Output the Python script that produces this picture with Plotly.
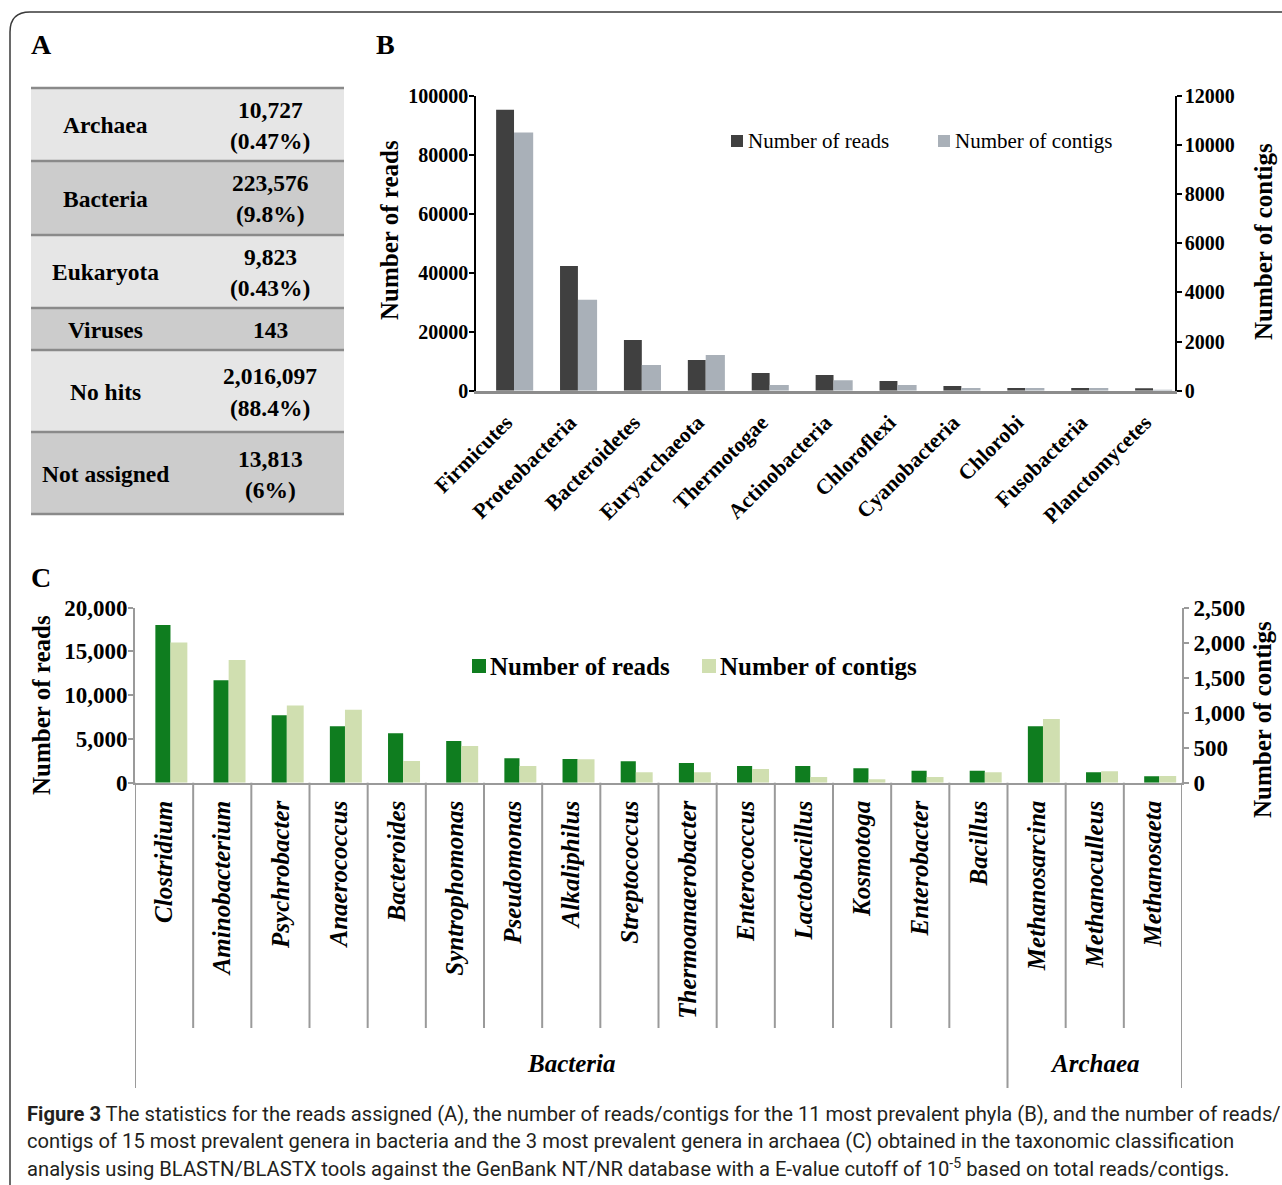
import plotly.graph_objects as go

W, H = 1282, 1185
SERIF = "Liberation Serif, Times New Roman, serif"
SANS = "Liberation Sans Narrow, Arial Narrow, Roboto, sans-serif"

# ---- Panel A: reads assigned per domain ----
domains = ["Archaea", "Bacteria", "Eukaryota", "Viruses", "No hits", "Not assigned"]
domain_reads = [10727, 223576, 9823, 143, 2016097, 13813]
domain_pct = [0.47, 9.8, 0.43, None, 88.4, 6]

# ---- Panel B: 11 most prevalent phyla ----
phyla = ["Firmicutes", "Proteobacteria", "Bacteroidetes", "Euryarchaeota", "Thermotogae",
         "Actinobacteria", "Chloroflexi", "Cyanobacteria", "Chlorobi", "Fusobacteria",
         "Planctomycetes"]
phyla_reads = [95200, 42300, 17200, 10400, 6000, 5300, 3300, 1600, 900, 900, 800]
phyla_contigs = [10500, 3700, 1050, 1450, 230, 430, 230, 110, 110, 110, 40]

# ---- Panel C: 15 bacterial and 3 archaeal genera ----
genera = ["Clostridium", "Aminobacterium", "Psychrobacter", "Anaerococcus", "Bacteroides",
          "Syntrophomonas", "Pseudomonas", "Alkaliphilus", "Streptococcus",
          "Thermoanaerobacter", "Enterococcus", "Lactobacillus", "Kosmotoga", "Enterobacter",
          "Bacillus", "Methanosarcina", "Methanoculleus", "Methanosaeta"]
genus_domain = ["Bacteria"] * 15 + ["Archaea"] * 3
genera_reads = [18000, 11700, 7700, 6450, 5650, 4750, 2800, 2700, 2450, 2250, 1900, 1900,
                1650, 1350, 1350, 6450, 1200, 750]
genera_contigs = [2000, 1750, 1100, 1040, 310, 525, 240, 335, 150, 150, 195, 80, 50, 80,
                  150, 910, 165, 95]


def px(x):
    return x / W


def py(y):
    return 1 - y / H


shapes = []
annotations = []


def text(x, y, s, size, bold=False, italic=False, family=SERIF, xanchor="center",
         angle=0, color="black"):
    annotations.append(dict(
        x=px(x), y=py(y), xref="paper", yref="paper", text=s, showarrow=False,
        xanchor=xanchor, yanchor="middle", textangle=angle,
        font=dict(family=family, size=size, color=color,
                  weight="bold" if bold else "normal",
                  style="italic" if italic else "normal")))


# outer frame with rounded corner
r = 20
shapes.append(dict(
    type="path", xref="paper", yref="paper",
    path=(f"M {px(10)},{py(H)} L {px(10)},{py(12 + r)} "
          f"Q {px(10)},{py(12)} {px(10 + r)},{py(12)} L {px(W)},{py(12)}"),
    line=dict(color="#3a3a3a", width=1.5)))

# panel letters
text(41, 45, "A", 28, bold=True)
text(386, 45, "B", 28, bold=True)
text(41, 577, "C", 28, bold=True)

# ---- Panel A table ----
row_heights = [73, 74, 73, 42, 82, 82]
row_fill = ["#e6e6e6", "#cccccc"]
top = 88
y0 = top
for i, (name, n, p) in enumerate(zip(domains, domain_reads, domain_pct)):
    y1 = y0 + row_heights[i]
    shapes.append(dict(type="rect", xref="paper", yref="paper", layer="below",
                       x0=px(31), x1=px(344), y0=py(y0), y1=py(y1),
                       fillcolor=row_fill[i % 2], line=dict(width=0)))
    mid = (y0 + y1) / 2 + 1
    text(105, mid, name, 23.5, bold=True)
    if p is None:
        text(270, mid, f"{n:,}", 23.5, bold=True)
    else:
        text(270, mid - 15.5, f"{n:,}", 23.5, bold=True)
        text(270, mid + 15.5, f"({p:g}%)", 23.5, bold=True)
    y0 = y1
# horizontal rules of the table
y = top
for h in [0] + row_heights:
    y += h
    shapes.append(dict(type="line", xref="paper", yref="paper",
                       x0=px(31), x1=px(344), y0=py(y), y1=py(y),
                       line=dict(color="#8a8a8a", width=2.5)))

# ---- traces ----
fig = go.Figure()
fig.add_trace(go.Bar(x=phyla, y=phyla_reads, name="Number of reads", xaxis="x", yaxis="y",
                     marker=dict(color="#404040", line=dict(width=0)), offset=-0.28, width=0.28))
fig.add_trace(go.Bar(x=phyla, y=phyla_contigs, name="Number of contigs", xaxis="x", yaxis="y2",
                     marker=dict(color="#a9b0b8", line=dict(width=0)), offset=0.0, width=0.30))
fig.add_trace(go.Bar(x=genera, y=genera_reads, name="Number of reads", xaxis="x2", yaxis="y3",
                     marker=dict(color="#0f7d1f", line=dict(width=0)), offset=-0.15, width=0.26))
fig.add_trace(go.Bar(x=genera, y=genera_contigs, name="Number of contigs", xaxis="x2", yaxis="y4",
                     marker=dict(color="#d0dfb0", line=dict(width=0)), offset=0.11, width=0.29))

# ---- Panel B decorations ----
text(390, 230, "Number of reads", 25, bold=True, angle=-90)
text(1263, 242, "Number of contigs", 25, bold=True, angle=-90)
for sx, label, col in [(731, "Number of reads", "#404040"), (938, "Number of contigs", "#a9b0b8")]:
    shapes.append(dict(type="rect", xref="paper", yref="paper", x0=px(sx), x1=px(sx + 12),
                       y0=py(147), y1=py(135), fillcolor=col, line=dict(width=0)))
    text(sx + 15, 141, label, 21, xanchor="left")

# ---- Panel C decorations ----
text(42, 705, "Number of reads", 25, bold=True, angle=-90)
text(1262, 720, "Number of contigs", 25, bold=True, angle=-90)
for sx, label, col in [(472, "Number of reads", "#0f7d1f"), (702, "Number of contigs", "#d0dfb0")]:
    shapes.append(dict(type="rect", xref="paper", yref="paper", x0=px(sx), x1=px(sx + 14),
                       y0=py(673), y1=py(659), fillcolor=col, line=dict(width=0)))
    text(sx + 16, 666, label, 25, bold=True, xanchor="left")

# category separators and domain brackets under panel C
group_edges = [0]
for i in range(1, len(genera)):
    if genus_domain[i] != genus_domain[i - 1]:
        group_edges.append(i)
group_edges.append(len(genera))
for i in range(len(genera) + 1):
    long_tick = i in group_edges
    shapes.append(dict(type="line", xref="x2", yref="paper", x0=i - 0.5, x1=i - 0.5,
                       y0=py(782.7), y1=py(1088 if long_tick else 1028),
                       line=dict(color="#9a9a9a", width=2)))
for a, b in zip(group_edges[:-1], group_edges[1:]):
    annotations.append(dict(x=(a + b - 1) / 2, y=py(1063), xref="x2", yref="paper",
                            text=genus_domain[a], showarrow=False, xanchor="center",
                            yanchor="middle",
                            font=dict(family=SERIF, size=25, color="black", weight="bold",
                                      style="italic")))

# ---- caption ----
caption = [
    "<b>Figure 3</b> The statistics for the reads assigned (A), the number of reads/contigs for "
    "the 11 most prevalent phyla (B), and the number of reads/",
    "contigs of 15 most prevalent genera in bacteria and the 3 most prevalent genera in archaea "
    "(C) obtained in the taxonomic classification",
    "analysis using BLASTN/BLASTX tools against the GenBank NT/NR database with a E-value cutoff "
    "of 10<sup>-5</sup> based on total reads/contigs.",
]
for k, line in enumerate(caption):
    text(25, 1114 + 27 * k, line, 20.2, family=SANS, xanchor="left", color="#231f20")

tick_b = dict(family=SERIF, size=20, color="black", weight="bold")
tick_bx = dict(family=SERIF, size=21.5, color="black", weight="bold")
tick_c = dict(family=SERIF, size=23, color="black", weight="bold")

fig.update_layout(
    template="none",
    width=W, height=H, margin=dict(l=0, r=0, t=0, b=0, pad=0, autoexpand=False),
    paper_bgcolor="white", plot_bgcolor="rgba(0,0,0,0)",
    showlegend=False, barmode="overlay",
    shapes=shapes, annotations=annotations,
    xaxis=dict(domain=[px(476), px(1175)], anchor="y", type="category", automargin=False,
               range=[-0.595, 10.344], showline=True, linecolor="#8c8c8c", linewidth=2.5,
               ticks="", tickangle=-45, tickfont=tick_bx, ticklabelstandoff=8,
               ticklabelshift=-8, showgrid=False, zeroline=False),
    yaxis=dict(domain=[py(390.7), py(95.7)], anchor="x", range=[0, 100000], automargin=False,
               tickvals=list(range(0, 100001, 20000)), tickformat="d",
               showline=True, linecolor="black", linewidth=1.5, ticks="outside",
               ticklen=5, tickcolor="black", tickwidth=1.5, tickfont=tick_b,
               ticklabelstandoff=-3, showgrid=False, zeroline=False),
    yaxis2=dict(overlaying="y", side="right", anchor="x", range=[0, 12000], automargin=False,
                tickvals=list(range(0, 12001, 2000)), tickformat="d",
                showline=True, linecolor="black", linewidth=1.5, ticks="outside",
                ticklen=5, tickcolor="black", tickwidth=1.5, tickfont=tick_b,
                ticklabelstandoff=-1, showgrid=False, zeroline=False),
    xaxis2=dict(domain=[px(135), px(1182)], anchor="y3", type="category", automargin=False,
                range=[-0.5, 17.5], showline=True, linecolor="#9a9a9a", linewidth=2,
                ticks="", tickangle=-90, ticklabelstandoff=6,
                tickfont=dict(family=SERIF, size=25, color="black", weight="bold",
                              style="italic"),
                showgrid=False, zeroline=False),
    yaxis3=dict(domain=[py(782.7), py(607.5)], anchor="x2", range=[0, 20000], automargin=False,
                tickvals=list(range(0, 20001, 5000)), tickformat=",",
                showline=True, linecolor="#9a9a9a", linewidth=2, ticks="outside",
                ticklen=5, tickcolor="#9a9a9a", tickwidth=1.5, tickfont=tick_c,
                ticklabelstandoff=-4, showgrid=False, zeroline=False),
    yaxis4=dict(overlaying="y3", side="right", anchor="x2", range=[0, 2500], automargin=False,
                tickvals=list(range(0, 2501, 500)), tickformat=",",
                showline=True, linecolor="#9a9a9a", linewidth=2, ticks="outside",
                ticklen=5, tickcolor="#9a9a9a", tickwidth=1.5, tickfont=tick_c,
                showgrid=False, zeroline=False),
)

fig.write_html("out.html")
